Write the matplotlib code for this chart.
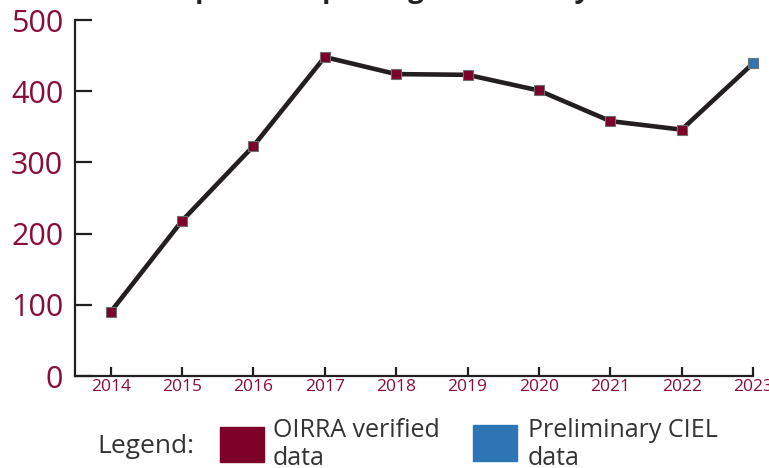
import matplotlib
matplotlib.use("Agg")
import matplotlib.pyplot as plt
from matplotlib.patches import Rectangle

# --- data ---
years = [2014, 2015, 2016, 2017, 2018, 2019, 2020, 2021, 2022, 2023]
companies = [90, 218, 323, 448, 424, 423, 401, 358, 346, 439]
is_preliminary = [False] * 9 + [True]

y_ticks = [0, 100, 200, 300, 400, 500]
legend_labels = ["OIRRA verified\ndata", "Preliminary CIEL\ndata"]
title = "Companies reporting data each year"

# --- styling ---
CRIMSON = "#7c0027"
LABEL_RED = "#8a0d36"
BLUE = "#2e75b6"
INK = "#231f20"
TEXT = "#333333"

plt.rcParams["font.family"] = ["Open Sans", "DejaVu Sans"]

fig = plt.figure(figsize=(7.69, 4.68), dpi=100)
ax = fig.add_axes([75 / 769, 92 / 468, 678 / 769, 356 / 468])

# line first, markers on top
ax.plot(years, companies, color=INK, lw=3.3, zorder=2, clip_on=False,
        solid_joinstyle="round")
for x, y, prelim in zip(years, companies, is_preliminary):
    ax.plot(x, y, marker="s", ms=7, mfc=BLUE if prelim else CRIMSON,
            mec="#707070", mew=0.8, zorder=3, clip_on=False)

ax.set_xlim(2013.5, 2023)
ax.set_ylim(0, 500)
ax.set_xticks(years)
ax.set_yticks(y_ticks)

for side in ("top", "right"):
    ax.spines[side].set_visible(False)
for side in ("left", "bottom"):
    ax.spines[side].set_color(INK)
    ax.spines[side].set_linewidth(1.6)

ax.tick_params(axis="y", direction="in", length=12.5, width=1.6, color=INK,
               labelsize=22, labelcolor=LABEL_RED, pad=8.5)
ax.tick_params(axis="x", direction="in", length=6.5, width=1.6, color=INK,
               labelsize=12.5, labelcolor=LABEL_RED, pad=2.5)

# title, mostly cropped off the top like in the source image
fig.text(0.5, 1 + 3 / 468, title, ha="center", va="baseline",
         fontsize=20, fontweight="bold", color=INK)

# hand-made legend row under the chart
fig.text(97 / 769, (468 - 453) / 468, "Legend:", fontsize=19, color=TEXT,
         va="baseline", ha="left")

swatches = [(220, 427, 462, CRIMSON), (473, 425, 461, BLUE)]
text_x = [273, 528]
for (x0, top, bottom, col), tx, lab in zip(swatches, text_x, legend_labels):
    fig.patches.append(Rectangle((x0 / 769, (468 - bottom) / 468),
                                 44 / 769, (bottom - top) / 468,
                                 transform=fig.transFigure, color=col))
    # baseline alignment lands on the last line here
    fig.text(tx / 769, (468 - 465) / 468, lab, fontsize=18, color=TEXT,
             va="baseline", ha="left", linespacing=1.17)

fig.savefig("out.png", dpi=100)
